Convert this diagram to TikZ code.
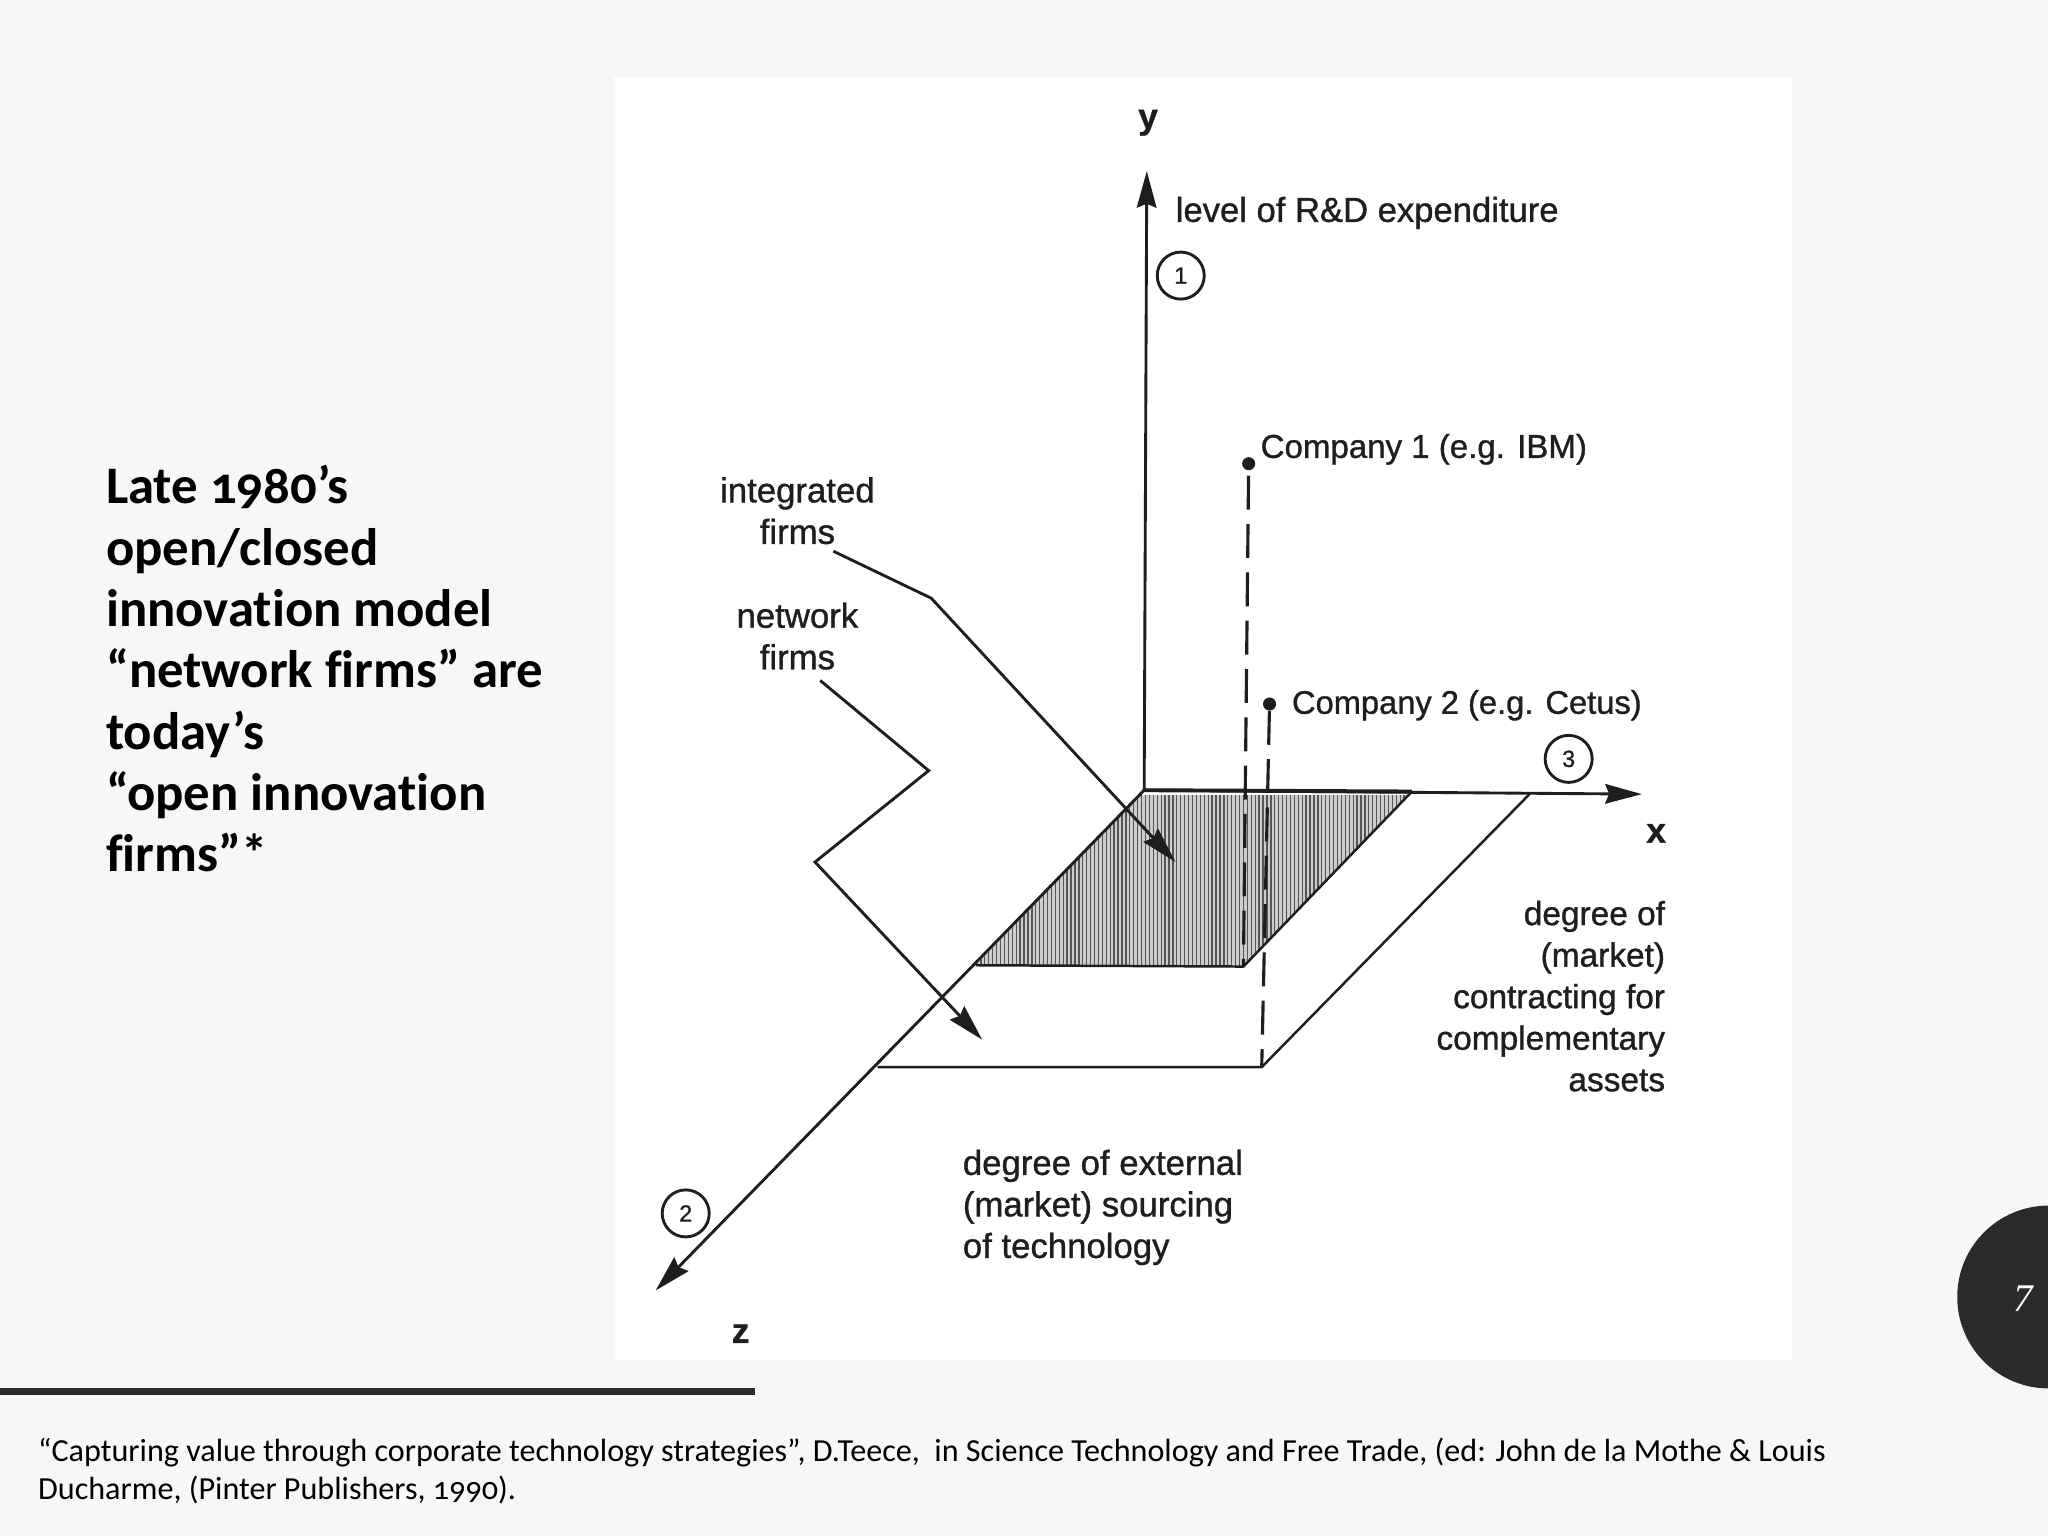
\documentclass[tikz,border=0pt]{standalone}
\usepackage{fontspec}
\setmainfont{Carlito}[Numbers=OldStyle,Ligatures=NoCommon]
\newfontfamily\scanfont[FakeBold=1.0]{Liberation Sans}
\newfontfamily\pagefont{Liberation Serif}
\usetikzlibrary{arrows.meta}
\definecolor{pagebg}{HTML}{F7F7F7}
\definecolor{barcol}{HTML}{2B2B2B}
\definecolor{scanink}{HTML}{1E1E1E}
\newcommand{\scansize}[1]{\scanfont\fontsize{#1}{31.8}\selectfont}
\tikzset{
  x=1pt,y=-1pt,
  axisline/.style={draw=scanink,line width=2.2pt,-{Stealth[length=28pt,width=15pt,inset=3pt]}},
  boxline/.style={draw=scanink,line width=1.9pt},
  dashline/.style={draw=scanink,line width=2.4pt,dash pattern=on 26pt off 11pt},
  pointer/.style={draw=scanink,line width=2.2pt,line join=miter,-{Stealth[length=28pt,width=15pt,inset=3pt]}},
  scanlabel/.style={text=scanink,inner sep=0pt},
  axisname/.style={font=\scanfont\bfseries\fontsize{27}{30}\selectfont,text=scanink,inner sep=0pt},
  numring/.style={circle,draw=scanink,line width=2.2pt,minimum size=36pt,inner sep=0pt,font=\scansize{18},text=scanink},
  companydot/.style={circle,fill=scanink,minimum size=10pt,inner sep=0pt},
  titletext/.style={font=\bfseries\fontsize{40.4}{47}\selectfont,text=black,inner sep=0pt,align=left,anchor=north west},
  citetext/.style={font=\fontsize{24.6}{29}\selectfont,text=black,inner sep=0pt,align=left,anchor=north west}
}
\begin{document}
\begin{tikzpicture}
\useasboundingbox (0,0) rectangle (1568,1176);
\clip (0,0) rectangle (1568,1176);
\fill[pagebg] (0,0) rectangle (1568,1176);
\fill[white] (470,59) rectangle (1372,1041);
% key points
\coordinate (O) at (876,605);
\coordinate (ytip) at (878,131);
\coordinate (xtip) at (1257,608);
\coordinate (ztip) at (502,988);
\coordinate (sa) at (1081,606);
\coordinate (sb) at (952,740);
\coordinate (sc) at (747,739);
\coordinate (oa) at (1172,607);
\coordinate (ob) at (966,817);
\coordinate (oc) at (672,817);
% shaded region
\begin{scope}
\clip (O) -- (sa) -- (sb) -- (sc) -- cycle;
\fill[black!20] (740,609) rectangle (1090,745);
\foreach \i in {0,...,116}{
  \draw[scanink!75,line width=1pt] (742+3*\i,609) -- (742+3*\i,745);
}
\end{scope}
\draw[boxline] (sa) -- (sb) -- (sc);
\draw[boxline] (oa) -- (ob) -- (oc);
% axes
\draw[axisline] (O) -- (ytip);
\draw[axisline] (O) -- (xtip);
\draw[axisline] (O) -- (ztip);
\draw[draw=scanink,line width=3pt] (O) -- (sa);
% dashed drop lines
\node[companydot] (c1) at (956,355) {};
\node[companydot] (c2) at (972,539) {};
\draw[dashline,dash phase=-4pt] (c1) -- (sb);
\draw[dashline] (c2) -- (ob);
% pointers
\node[scanlabel,align=center,font=\scansize{26.6}] (integ) at (610.5,391) {integrated\\firms};
\node[scanlabel,align=center,font=\scansize{26.6}] (netw) at (610.5,487) {network\\firms};
\coordinate (ia) at (638,422);
\coordinate (ib) at (713,458);
\coordinate (ic) at (900,660);
\coordinate (na) at (628,521);
\coordinate (nb) at (711,590);
\coordinate (nc) at (624,660);
\coordinate (nd) at (752,796);
\draw[pointer] (ia) -- (ib) -- (ic);
\draw[pointer] (na) -- (nb) -- (nc) -- (nd);
% rings
\node[numring] (r1) at (904,211) {1};
\node[numring] (r2) at (525,929) {2};
\node[numring] (r3) at (1201,581) {3};
% axis names
\node[axisname] (ny) at (879,94) {y};
\node[axisname] (nx) at (1268,638) {x};
\node[axisname] (nz) at (567,1021) {z};
% labels
\node[scanlabel,anchor=west,font=\scansize{26.5}] (lvl) at (900,163) {level of R\&D expenditure};
\node[scanlabel,anchor=west,font=\scansize{25.3}] (l1) at (965,344) {Company 1 (e.g. IBM)};
\node[scanlabel,anchor=west,font=\scansize{25}] (l2) at (989,540) {Company 2 (e.g. Cetus)};
\node[scanlabel,align=right,anchor=north east,font=\scansize{25.6}] (contr) at (1275,689.5) {degree of\\(market)\\contracting for\\complementary\\assets};
\node[scanlabel,align=left,anchor=north west,font=\scansize{26.6}] (ext) at (737,880) {degree of external\\(market) sourcing\\of technology};
% slide furniture
\node[titletext] (title) at (81,356) {Late 1980’s\\open/closed\\innovation model\\“network firms” are\\today’s\\“open innovation\\firms”*};
\fill[barcol] (0,1063) rectangle (578,1068);
\node[citetext] (cite) at (29,1101) {“Capturing value through corporate technology strategies”, D.Teece,\ \ in Science Technology and Free Trade, (ed: John de la Mothe \& Louis\\Ducharme, (Pinter Publishers, 1990).};
\fill[barcol] (1568.5,993) circle (70);
\node[inner sep=0pt,text=white,font=\pagefont\itshape\fontsize{30}{30}\selectfont] (pg) at (1549,994) {7};
\end{tikzpicture}
\end{document}
